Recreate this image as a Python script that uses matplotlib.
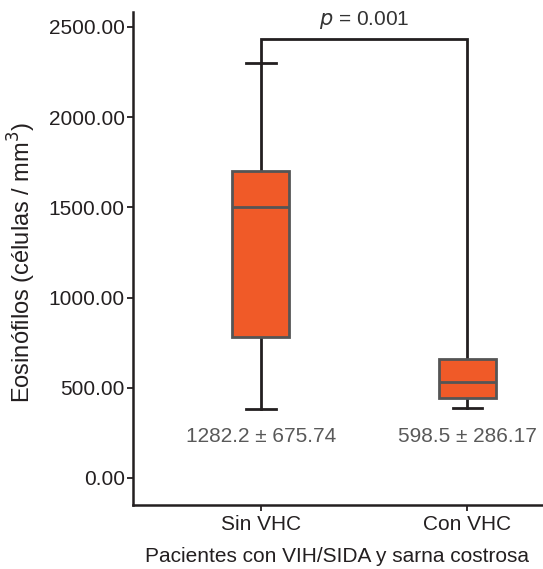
import matplotlib
matplotlib.use("Agg")
import matplotlib.pyplot as plt

plt.rcParams['font.family'] = ['Liberation Sans', 'DejaVu Sans']

# data
groups = ['Sin VHC', 'Con VHC']
whislo = [380, 385]
q1 = [780, 442]
median = [1500, 532]
q3 = [1700, 658]
whishi = [2300, 658]
means = [1282.2, 598.5]
sds = [675.74, 286.17]
p_value = '0.001'

box_color = '#F05A28'
edge_color = '#555555'
ink = '#231F20'
gray_text = '#595959'

fig = plt.figure(figsize=(5.43, 5.69), dpi=100)
ax = fig.add_axes([0.245, 0.1125, 0.753, 0.8665])

stats = []
for i, g in enumerate(groups):
    stats.append(dict(label=g, whislo=whislo[i], q1=q1[i], med=median[i],
                      q3=q3[i], whishi=whishi[i], fliers=[]))

positions = [1, 2]
res = ax.bxp(stats, positions=positions, widths=0.275, patch_artist=True,
             capwidths=0.145,
             boxprops=dict(facecolor=box_color, edgecolor=edge_color, linewidth=2),
             medianprops=dict(color=edge_color, linewidth=2),
             whiskerprops=dict(color=ink, linewidth=2),
             capprops=dict(color=ink, linewidth=2))
for b in res['boxes']:
    b.set_zorder(3)
for m in res['medians']:
    m.set_zorder(4)
# no upper cap on the second box
res['caps'][3].set_visible(False)

# significance bracket
bracket_y = 2435
ax.plot([positions[0], positions[0], positions[1], positions[1]],
        [whishi[0], bracket_y, bracket_y, q3[1]], color=ink, linewidth=2,
        zorder=2, solid_joinstyle='miter')
ax.text(sum(positions) / 2, bracket_y + 40, f'$\\it{{p}}$ = {p_value}',
        ha='center', va='bottom', fontsize=15, color='#333333')

# mean ± sd labels
for x, m, s in zip(positions, means, sds):
    ax.text(x, 230, f'{m} ± {s}', ha='center', va='center', fontsize=15,
            color=gray_text)

ax.set_xlim(0.382, 2.36)
ax.set_ylim(-150, 2583)
ax.set_yticks([0, 500, 1000, 1500, 2000, 2500])
ax.set_yticklabels([f'{v:.2f}' for v in [0, 500, 1000, 1500, 2000, 2500]])
ax.set_xticks(positions)
ax.set_xticklabels(groups)

for side in ['top', 'right']:
    ax.spines[side].set_visible(False)
for side in ['left', 'bottom']:
    ax.spines[side].set_color(ink)
    ax.spines[side].set_linewidth(1.8)
ax.tick_params(axis='both', colors=ink, labelsize=15, width=1.3, length=4)
ax.tick_params(axis='y', pad=2)

ax.set_ylabel('Eosinófilos (células / mm$^3$)', fontsize=17, color=ink)
ax.yaxis.label.set_va('center')
ax.yaxis.set_label_coords(-0.271, 0.493)
ax.set_xlabel('Pacientes con VIH/SIDA y sarna costrosa', fontsize=15, color=ink,
              labelpad=9)

fig.savefig('out.png', dpi=100)
